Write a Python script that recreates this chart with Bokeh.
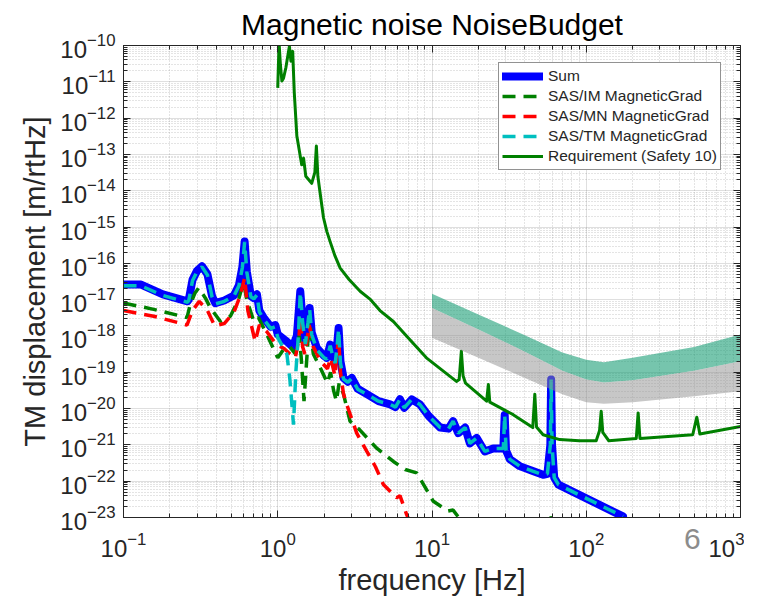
from bokeh.plotting import figure
from bokeh.models import FixedTicker, LogAxis, CustomJSTickFormatter, Div
from bokeh.layouts import column
from bokeh.embed import file_html
from bokeh.resources import INLINE

# ---------------- data ----------------
sum_f = [0.1, 0.13, 0.18, 0.26, 0.265, 0.28, 0.30, 0.323, 0.35, 0.375, 0.394, 0.45, 0.52, 0.56,
         0.59, 0.61, 0.63, 0.67, 0.70, 0.733, 0.76, 0.81, 0.90, 0.964, 1.0, 1.147, 1.25, 1.33,
         1.40, 1.45, 1.51, 1.57, 1.61, 1.66, 1.79, 2.0, 2.08, 2.19, 2.30, 2.36, 2.43, 2.48, 2.55,
         2.67, 2.85, 3.02, 3.3, 3.78, 4.5, 5.35, 5.8, 6.2, 6.6, 7.4, 8.35, 9.5, 11.3, 12.8, 13.7,
         14.8, 16.4, 17.6, 19.5, 22, 24.9, 29.0, 29.6, 30.2, 32, 37, 45, 52.5, 56, 58.5, 59.2, 60,
         62, 66, 173]
sum_v = [2.6e-17, 2.6e-17, 1.4e-17, 9e-18, 1e-17, 3.5e-17, 6.3e-17, 8.3e-17, 5e-17, 1.25e-17, 8e-18,
         9.5e-18, 1.3e-17, 2.5e-17, 8e-17, 4e-16, 6e-17, 1.25e-17, 1.1e-17, 1.4e-17, 5e-18, 3.2e-18,
         1.8e-18, 2e-18, 1.1e-18, 7e-19, 5e-19, 1e-18, 1.7e-17, 2.5e-18, 7e-19, 2.5e-18, 5.9e-18,
         1.25e-18, 4.7e-19, 2.8e-19, 2.5e-19, 5.8e-19, 2.5e-19, 2e-19, 6e-19, 1.65e-18, 2e-19, 7e-20,
         5.5e-20, 7e-20, 3.5e-20, 2.5e-20, 1.6e-20, 1.3e-20, 1.1e-20, 1.8e-20, 1.05e-20, 1.8e-20,
         1.3e-20, 6.3e-21, 3e-21, 2.8e-21, 4.5e-21, 2.1e-21, 3e-21, 1.1e-21, 1.55e-21, 6.6e-22, 8e-22,
         8e-22, 6.7e-21, 7e-22, 4e-22, 2.6e-22, 1.9e-22, 1.5e-22, 1.6e-22, 1e-21, 6.3e-20, 1e-21,
         1.25e-22, 8e-23, 1.07e-23]

tm_f = [0.1, 0.13, 0.18, 0.26, 0.265, 0.28, 0.30, 0.323, 0.35, 0.375, 0.394, 0.45, 0.52, 0.56,
        0.59, 0.61, 0.63, 0.67, 0.70, 0.733, 0.76, 0.81, 0.90, 0.964, 1.0, 1.147, 1.2, 1.265, 1.31,
        1.36, 1.40, 1.45, 1.51, 1.57, 1.61, 1.66, 1.79, 2.0, 2.08, 2.19, 2.30, 2.36, 2.43, 2.48,
        2.55, 2.67, 2.85, 3.02, 3.3, 3.78, 4.5, 5.35, 5.8, 6.2, 6.6, 7.4, 8.35, 9.5, 11.3, 12.8,
        13.7, 14.8, 16.4, 17.6, 19.5, 22, 24.9, 29.0, 29.6, 30.2, 32, 37, 45, 52.5, 56, 58.5, 59.2,
        60, 62, 66, 173]
tm_v = [2.4e-17, 2.4e-17, 1.3e-17, 8.5e-18, 9.5e-18, 3.3e-17, 6e-17, 8e-17, 4.8e-17, 1.2e-17, 7.6e-18,
        9e-18, 1.25e-17, 2.4e-17, 7.8e-17, 3.9e-16, 5.8e-17, 1.2e-17, 1.05e-17, 1.35e-17, 4.6e-18,
        2.9e-18, 1.6e-18, 1.8e-18, 9e-19, 3.1e-19, 6e-20, 3.6e-21, 1e-19, 1e-18, 1.6e-17, 2.3e-18,
        6e-19, 2.3e-18, 5.6e-18, 1.1e-18, 4.2e-19, 2.5e-19, 2.3e-19, 5.4e-19, 2.2e-19, 1.8e-19,
        5.6e-19, 1.55e-18, 1.8e-19, 6.5e-20, 5.3e-20, 6.8e-20, 3.4e-20, 2.45e-20, 1.6e-20, 1.3e-20,
        1.1e-20, 1.8e-20, 1.05e-20, 1.8e-20, 1.3e-20, 6.3e-21, 3e-21, 2.8e-21, 4.5e-21, 2.1e-21,
        3e-21, 1.1e-21, 1.55e-21, 6.6e-22, 8e-22, 8e-22, 6.7e-21, 7e-22, 4e-22, 2.6e-22, 1.9e-22,
        1.5e-22, 1.6e-22, 1e-21, 6.3e-20, 1e-21, 1.25e-22, 8e-23, 1.07e-23]

im_f = [0.1, 0.157, 0.258, 0.27, 0.29, 0.307, 0.34, 0.366, 0.425, 0.493, 0.557, 0.60, 0.63, 0.70,
        0.75, 0.85, 1.0, 1.1, 1.2, 1.3, 1.38, 1.42, 1.48, 1.55, 1.6, 1.7, 1.9, 2.1, 2.2, 2.3, 2.4,
        2.5, 2.67, 2.94, 3.4, 4.38, 5.62, 6.7, 7.95, 10.2, 12.7, 13.7, 15.2, 20, 58, 59.2, 60.5, 100]
im_v = [8.1e-18, 5.4e-18, 3.2e-18, 7e-18, 1.5e-17, 2.1e-17, 1.1e-17, 5.9e-18, 2.5e-18, 3.5e-18, 1e-17,
        3e-17, 1e-17, 2.5e-18, 3.2e-18, 1.1e-18, 2.5e-19, 4.5e-19, 5e-19, 3.2e-19, 1e-18, 2.5e-19,
        1.6e-20, 3.2e-19, 3.5e-18, 3.2e-19, 1.25e-19, 5e-20, 1e-19, 3.2e-20, 1.6e-20, 5e-20, 2.5e-20,
        4.5e-21, 2.6e-21, 8.1e-22, 3.5e-22, 2.1e-22, 1.7e-22, 2.8e-23, 1.5e-23, 1.6e-23, 9e-24, 4e-24,
        1.2e-24, 1.1e-23, 1.2e-24, 4e-25]

mn_f = [0.1, 0.157, 0.258, 0.28, 0.31, 0.35, 0.39, 0.45, 0.52, 0.57, 0.61, 0.64, 0.714, 0.76, 0.85,
        0.98, 1.1, 1.2, 1.3, 1.37, 1.40, 1.45, 1.5, 1.6, 1.7, 1.9, 2.1, 2.2, 2.35, 2.48, 2.55, 2.67,
        2.8, 3.25, 3.78, 4.3, 4.84, 5.9, 6.2, 6.85, 7.5, 10]
mn_v = [5e-18, 3.5e-18, 2e-18, 5e-18, 9e-18, 5e-18, 1.9e-18, 2.2e-18, 4.5e-18, 1.25e-17, 4e-17, 5e-18,
        7e-19, 2e-18, 1.3e-18, 5.8e-19, 4.5e-19, 3.2e-19, 2.5e-19, 8e-19, 3.2e-18, 5e-19, 3.2e-19,
        2e-18, 5e-19, 2e-19, 1.25e-19, 2.5e-19, 8e-20, 1e-18, 1e-19, 2.5e-20, 1.3e-20, 2.1e-21,
        6.6e-22, 2.5e-22, 8.1e-23, 3.5e-23, 4e-23, 1.2e-23, 5e-24, 1e-24]

req_f = [1.0, 1.02, 1.04, 1.064, 1.09, 1.13, 1.19, 1.217, 1.25, 1.28, 1.33, 1.43, 1.47, 1.52, 1.66,
         1.74, 1.78, 1.82, 1.86, 1.98, 2.08, 2.18, 2.35, 2.54, 2.9, 3.42, 4.0, 4.6, 5.62, 7.0, 9.2,
         14.4, 15.0, 15.5, 15.9, 16.5, 22.6, 23.2, 23.7, 33.6, 45, 46.4, 47.6, 52.5, 67.3, 90, 116,
         122, 125, 128, 140, 211, 217, 223, 490, 521, 545, 1000]
req_v = [6.8e-12, 1.2e-10, 3e-11, 1.05e-11, 1.25e-11, 2.5e-11, 9.5e-11, 3.7e-11, 6.9e-11, 5e-12,
         3.2e-13, 5.2e-14, 7.9e-14, 2.5e-14, 1.6e-14, 3.2e-14, 1.7e-13, 2.5e-14, 1.25e-14, 1.8e-15,
         7.6e-16, 4.1e-16, 1.6e-16, 7.4e-17, 3.6e-17, 1.7e-17, 1e-17, 5e-18, 2.5e-18, 8.9e-19,
         2.5e-19, 5.6e-20, 6.3e-20, 3.8e-19, 8e-20, 5e-20, 1.6e-20, 4.6e-20, 1.5e-20, 6.8e-21, 3e-21,
         2.5e-20, 3.1e-21, 1.9e-21, 1.4e-21, 1.3e-21, 1.3e-21, 2.5e-21, 8.5e-21, 2.2e-21, 1.3e-21,
         1.5e-21, 7.6e-21, 1.5e-21, 1.9e-21, 5.8e-21, 2e-21, 3.2e-21]

band_f = [10, 20, 40, 70, 100, 130, 200, 500, 1000]
teal_top = [1.45e-17, 3.9e-18, 1.05e-18, 3.5e-19, 2.2e-19, 1.9e-19, 2.5e-19, 5e-19, 1.1e-18]
teal_bot = [5.9e-18, 1.5e-18, 3.7e-19, 1.1e-19, 6.3e-20, 5.2e-20, 6e-20, 1.1e-19, 2e-19]
gray_bot = [8.9e-19, 2.5e-19, 7e-20, 2.5e-20, 1.5e-20, 1.35e-20, 1.5e-20, 2.2e-20, 3e-20]

x_major = [0.1, 1, 10, 100, 1000]
y_major = [10.0 ** k for k in range(-23, -9)]

page_number = "6"

# ---------------- figure ----------------
FONT = "Liberation Sans"
AX = "#262626"

x_minor = [m * d for d in [0.1, 1, 10, 100] for m in range(2, 10)]
y_minor = [m * d for d in y_major[:-1] for m in range(2, 10)]

p = figure(frame_width=617, frame_height=472, x_axis_type="log", y_axis_type="log",
           x_range=(0.1, 1000), y_range=(1e-23, 1e-10),
           output_backend="svg", toolbar_location=None,
           title="Magnetic noise NoiseBudget",
           min_border_left=123, min_border_right=0, min_border_top=45, min_border_bottom=0)
p.background_fill_color = "white"
p.border_fill_color = "white"
p.outline_line_color = AX

p.title.text_font = FONT
p.title.text_font_size = "30px"
p.title.text_font_style = "normal"
p.title.text_color = "black"
p.title.align = "center"
p.title.standoff = 0

p.xaxis.ticker = FixedTicker(ticks=x_major, minor_ticks=x_minor)
p.yaxis.ticker = FixedTicker(ticks=y_major, minor_ticks=y_minor)
p.xaxis.axis_label = "frequency [Hz]"
p.yaxis.axis_label = "TM displacement [m/rtHz]"

for ax in [p.xaxis[0], p.yaxis[0]]:
    ax.axis_label_text_font = FONT
    ax.axis_label_text_font_size = "29px"
    ax.axis_label_text_font_style = "normal"
    ax.axis_label_text_color = AX
    ax.major_label_text_font = FONT
    ax.major_label_text_font_size = "24px"
    ax.major_label_text_color = AX
    ax.axis_line_color = AX
    ax.major_tick_line_color = AX
    ax.minor_tick_line_color = AX
    ax.major_tick_in = 7
    ax.major_tick_out = 0
    ax.minor_tick_in = 4
    ax.minor_tick_out = 0
p.xaxis.major_label_standoff = 14
p.yaxis.major_label_standoff = 8
p.xaxis.axis_label_standoff = 4
p.yaxis.axis_label_standoff = 6

blank = CustomJSTickFormatter(code="return ' '")
for loc, ticker in [("right", FixedTicker(ticks=y_major, minor_ticks=y_minor)),
                    ("above", FixedTicker(ticks=x_major, minor_ticks=x_minor))]:
    ax = LogAxis(ticker=ticker, formatter=blank, major_label_text_font_size="2px",
                 major_tick_in=7, major_tick_out=0,
                 minor_tick_in=4, minor_tick_out=0, axis_line_color=AX,
                 major_tick_line_color=AX, minor_tick_line_color=AX, major_label_standoff=0)
    p.add_layout(ax, loc)

for g in [p.xgrid[0], p.ygrid[0]]:
    g.grid_line_color = AX
    g.grid_line_alpha = 0.15
    g.minor_grid_line_color = AX
    g.minor_grid_line_alpha = 0.25
    g.minor_grid_line_dash = "1 2"

DASH = "13 8"
p.line(sum_f, sum_v, line_color="#0000FF", line_width=8, line_join="round", line_cap="round",
       legend_label="Sum")
p.line(im_f, im_v, line_color="#008000", line_width=3.5, line_dash=DASH,
       legend_label="SAS/IM MagneticGrad")
p.line(mn_f, mn_v, line_color="#FF0000", line_width=3.5, line_dash=DASH,
       legend_label="SAS/MN MagneticGrad")
p.line(tm_f, tm_v, line_color="#00BFBF", line_width=3.5, line_dash=DASH,
       legend_label="SAS/TM MagneticGrad")
p.line(req_f, req_v, line_color="#008000", line_width=3, line_join="round",
       legend_label="Requirement (Safety 10)")

p.varea(x=band_f, y1=teal_bot, y2=teal_top, fill_color="#1b9e77", fill_alpha=0.6)
p.varea(x=band_f, y1=gray_bot, y2=teal_bot, fill_color="#909090", fill_alpha=0.5)

lg = p.legend[0]
lg.location = (375, 347)
lg.padding = 3
lg.spacing = 0
lg.glyph_width = 41
lg.glyph_height = 20
lg.label_height = 20
lg.label_standoff = 5
lg.label_text_font = FONT
lg.label_text_font_size = "15.5px"
lg.label_text_color = AX
lg.border_line_color = AX
lg.border_line_width = 1
lg.background_fill_alpha = 1

page_div = Div(text=page_number, width=30, height=34, margin=(-76, 0, 0, 684),
               styles={"font-family": FONT, "font-size": "30px", "color": "#8c8c8c",
                       "line-height": "34px"})

open("out.html", "w").write(file_html(column(p, page_div), INLINE))
